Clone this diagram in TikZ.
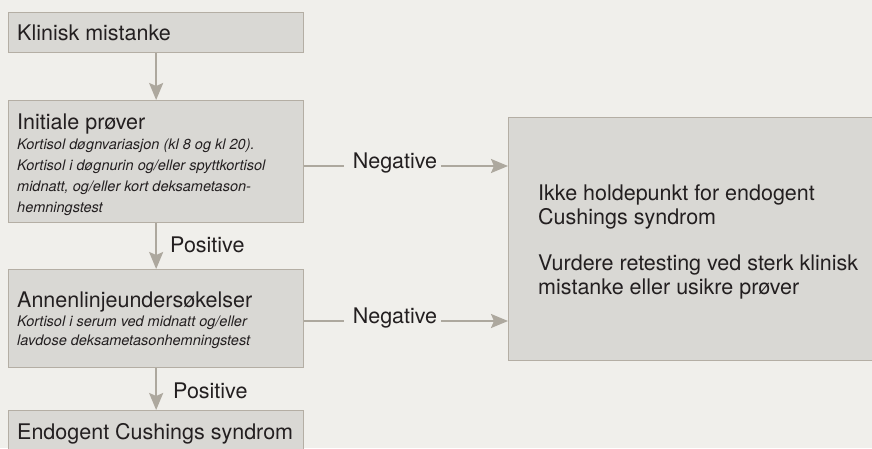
\documentclass[tikz,border=0pt]{standalone}
\usepackage{fontspec}
\setmainfont{TeX Gyre Heros}
\usetikzlibrary{arrows.meta,calc}
\definecolor{bg}{HTML}{F0EFEB}
\definecolor{boxfill}{HTML}{D9D8D4}
\definecolor{boxline}{HTML}{B4AEA4}
\definecolor{arrowc}{HTML}{ADA89E}
\definecolor{txt}{HTML}{231F20}
\newcommand{\smalltxt}{\fontsize{14.5}{21}\selectfont\itshape}
\tikzset{
  box/.style={draw=boxline, fill=boxfill, line width=1.3pt, anchor=north west,
    minimum width=295pt, inner sep=0pt},
  boxtext/.style={anchor=west, inner sep=0pt, align=left, text=txt,
    font=\fontsize{21.5}{21}\selectfont},
  flow/.style={draw=arrowc, line width=2pt, -{Stealth[length=17pt,width=14pt,inset=3pt]}},
  plain/.style={draw=arrowc, line width=2pt},
  lbl/.style={text=txt, font=\fontsize{21.5}{24}\selectfont, inner sep=0pt}
}
\begin{document}
\begin{tikzpicture}[x=1pt,y=1pt]
\useasboundingbox (0,0) rectangle (872,-448);
\fill[bg] (0,0) rectangle (872,-448);
\clip (0,0) rectangle (872,-448);

\node[box, minimum height=40pt] (b1) at (8,-12) {};
\node[box, minimum height=122pt] (b2) at (8,-100) {};
\node[box, minimum height=98pt] (b3) at (8,-269) {};
\node[box, minimum height=46pt] (b4) at (8,-410) {};
\node[box, minimum height=243pt, minimum width=400pt] (r) at (508,-117) {};

\node[boxtext] (t1) at ([xshift=9pt]b1.west) {Klinisk mistanke};
\node[boxtext] (t2) at ([xshift=9pt,yshift=-3pt]b2.west) {Initiale prøver\\[-1pt]
{\smalltxt Kortisol døgnvariasjon (kl 8 og kl 20).}\\
{\smalltxt Kortisol i døgnurin og/eller spyttkortisol}\\
{\smalltxt midnatt, og/eller kort deksametason-}\\
{\smalltxt hemningstest}};
\node[boxtext, font=\fontsize{21.5}{18.5}\selectfont] (t3) at ([xshift=9pt,yshift=-1.5pt]b3.west) {Annenlinjeundersøkelser\\
{\smalltxt Kortisol i serum ved midnatt og/eller}\\[0.5pt]
{\smalltxt lavdose deksametasonhemningstest}};
\node[boxtext] (t4) at ([xshift=9pt]b4.west) {Endogent Cushings syndrom};
\node[boxtext, font=\fontsize{21.5}{24}\selectfont] (tr) at ([xshift=30pt,yshift=-3pt]r.west) {Ikke holdepunkt for endogent\\
Cushings syndrom\\[22pt]
Vurdere retesting ved sterk klinisk\\
mistanke eller usikre prøver};

\draw[flow] (b1) -- (b2);
\draw[flow] (b2) -- (b3);
\draw[flow] (b3) -- (b4);
\node[lbl, anchor=base west] (p1) at (170,-252) {Positive};
\node[lbl, anchor=base west] (p2) at (173,-398) {Positive};

\node[lbl, anchor=mid] (n1) at (395,-166) {Negative};
\node[lbl, anchor=mid] (n2) at (395,-321) {Negative};
\draw[plain] (b2.east |- n1.mid) -- ([xshift=-9pt]n1.mid west);
\draw[flow] ([xshift=4pt]n1.mid east) -- (r.west |- n1.mid);
\draw[plain] (b3.east |- n2.mid) -- ([xshift=-9pt]n2.mid west);
\draw[flow] ([xshift=4pt]n2.mid east) -- (r.west |- n2.mid);
\end{tikzpicture}
\end{document}
